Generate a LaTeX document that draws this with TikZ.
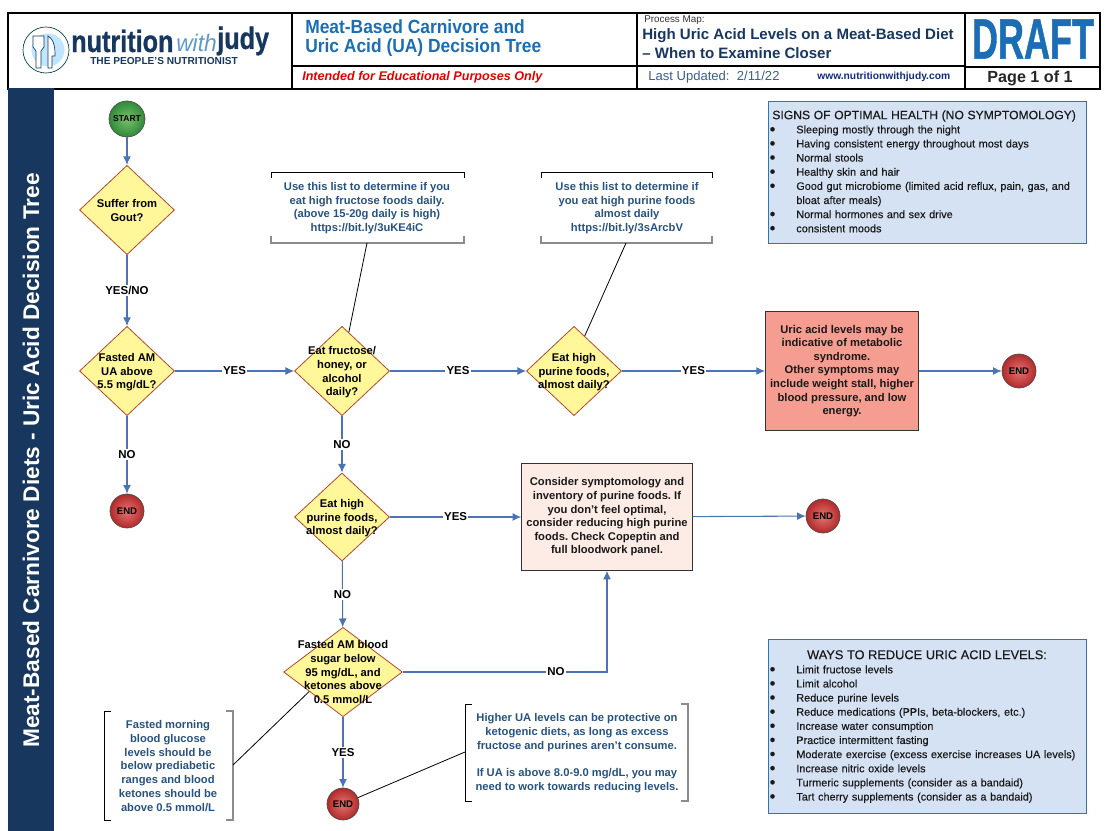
\documentclass[tikz,border=0pt]{standalone}
\usepackage{fontspec}
\setmainfont{Liberation Sans}
\newfontfamily\panelfont[FakeBold=0.25]{Liberation Sans}
\newfontfamily\heavyfont[UprightFont=* Bold,FakeBold=1]{Liberation Sans}
\usetikzlibrary{shapes.geometric,arrows.meta}
\definecolor{flowblue}{HTML}{4A74B4}
\definecolor{navy}{HTML}{17375E}
\definecolor{noteblue}{HTML}{27527F}
\definecolor{titleblue}{HTML}{1B6DB5}
\definecolor{panelblue}{HTML}{D5E2F3}
\definecolor{panelline}{HTML}{2E75B6}
\definecolor{choicefill}{HTML}{FFF79A}
\definecolor{choiceline}{HTML}{B5482A}
\definecolor{endin}{HTML}{E57373}
\definecolor{endout}{HTML}{B22A2A}
\definecolor{startin}{HTML}{7ABF6B}
\definecolor{startout}{HTML}{2E8B3A}
\definecolor{alarmfill}{HTML}{F59D90}
\definecolor{softfill}{HTML}{FDECE6}
\newcommand{\fsz}[2]{\fontsize{#1}{#2}\selectfont}
\newcommand{\bul}[1]{\par\hangindent=18pt\hangafter=1\noindent\hbox to 18pt{\hspace{-2pt}\raisebox{-1pt}{\scalebox{1.5}{\textbullet}}\hfil}#1}
\newcommand{\qtext}[1]{\makebox[0pt]{\smash{\raisebox{-3pt}{\begin{tabular}{@{}c@{}}#1\end{tabular}}}}}
\tikzset{
  flow/.style={draw=flowblue,line width=0.8pt,-{Latex[length=6.5pt,width=6pt]}},
  lbl/.style={fill=white,inner sep=1pt,font=\bfseries\fsz{8.6}{10},text=black},
  callout/.style={draw=black,line width=0.6pt},
  choice/.style={diamond,draw=choiceline,fill=choicefill,line width=0.6pt,inner sep=0pt,
    minimum width=71.25pt,minimum height=67pt,font=\bfseries\fsz{8.4}{10.4},text=black},
  endball/.style={circle,draw=black!70,line width=0.5pt,inner sep=0pt,inner color=endin,
    outer color=endout,minimum size=25.5pt,font=\bfseries\fsz{7.2}{8},text=black},
  startball/.style={circle,draw=black!70,line width=0.5pt,inner sep=0pt,inner color=startin,
    outer color=startout,minimum size=27pt,font=\bfseries\fsz{6.4}{8},text=black},
  note/.style={align=center,font=\bfseries\fsz{8.4}{10.3},text=noteblue},
  result/.style={draw=black!80,line width=0.6pt,minimum width=#1,align=center,
    font=\bfseries\frenchspacing\fsz{8.4}{10.2},text=black!90},
  panel/.style={draw=panelline,fill=panelblue,line width=0.7pt,minimum width=238.5pt,
    inner sep=3pt,text width=232pt,align=left,text=black!90,font=\panelfont\fsz{8.15}{10.6}},
  head/.style={inner sep=0pt,anchor=west}
}
\begin{document}
\begin{tikzpicture}[x=0.75pt,y=-0.75pt]
  \useasboundingbox (0,0) rectangle (1106,831);
  % header frame
  \draw[line width=0.9pt] (8,13) rectangle (1100,89);
  \draw[line width=0.9pt] (292,13) -- (292,89) (637,13) -- (637,89) (965,13) -- (965,89);
  \draw[line width=0.8pt] (292,66) -- (965,66);
  \draw[line width=1.2pt] (965,67) -- (1100,67);
  % logo
  \draw[draw=black!50!teal,line width=0.5pt] (46,50) circle (23);
  \fill[blue!40!cyan!25] (48,50) circle (16.5);
  \draw[navy,fill=white,line width=0.5pt] (33,36) -- (33,47) -- (36,51) -- (36,68) -- (41,68) -- (41,51) -- (44,47) -- (44,36) -- cycle;
  \draw[navy,fill=white,line width=0.5pt] (48,36) .. controls (55,40) and (55,50) .. (55,56) -- (52,56) -- (52,68) -- (48,68) -- cycle;
  \node[head,text=navy,font=\heavyfont\fsz{21}{24}] (nutrition) at (71,41) {\scalebox{.9}[1.1]{nutrition}};
  \node[head,text=titleblue!70,font=\itshape\fsz{18}{24}] (with) at (176,43) {\scalebox{.95}[1]{with}};
  \node[head,text=navy,font=\heavyfont\fsz{21}{24}] (judy) at (217,41) {\scalebox{.9}[1.1]{judy}};
  \node[head,text=navy,font=\bfseries\fsz{7.6}{9}] (people) at (90,61) {THE PEOPLE'S NUTRITIONIST};
  % titles
  \node[head,text=titleblue,font=\bfseries\fsz{13.6}{16}] (title1) at (305,27) {\scalebox{.96}[1.05]{Meat-Based Carnivore and}};
  \node[head,text=titleblue,font=\bfseries\fsz{13.6}{16}] (title2) at (305,48) {\scalebox{.96}[1.05]{Uric Acid (UA) Decision Tree}};
  \node[head,text=red!90!black,font=\bfseries\itshape\fsz{9.45}{11}] (purpose) at (302,77) {Intended for Educational Purposes Only};
  \node[head,text=black!80,font=\fsz{7.4}{9}] (map) at (644,20) {Process Map:};
  \node[head,text=navy,font=\bfseries\fsz{11.3}{13}] (map1) at (642,36) {High Uric Acid Levels on a Meat-Based Diet};
  \node[head,text=navy,font=\bfseries\fsz{11.3}{13}] (map2) at (642,53) {-- When to Examine Closer};
  \node[head,text=flowblue!80!black,font=\fsz{9.8}{11}] (updated) at (648,77) {Last Updated:\ \ 2/11/22};
  \node[head,text=navy!80!blue,font=\bfseries\fsz{7.7}{9}] (site) at (817,77) {www.nutritionwithjudy.com};
  \node[text=titleblue,inner sep=0pt,font=\heavyfont\fsz{30}{32}] (draft) at (1033,39) {\scalebox{.9}[1.42]{DRAFT}};
  \node[text=black!85,inner sep=0pt,font=\bfseries\fsz{12.1}{14}] (page) at (1030,78) {Page 1 of 1};
  % side bar
  \fill[navy] (8,88) rectangle (54,831);
  \node[rotate=90,text=white,inner sep=0pt,font=\bfseries\fsz{17}{20}] (side) at (31,460.5) {Meat-Based Carnivore Diets - Uric Acid Decision Tree};
  % flow nodes
  \node[startball] (start) at (127,119) {START};
  \node[choice] (gout) at (127,210) {\qtext{Suffer from\\Gout?}};
  \node[choice] (fasted) at (127,371) {\qtext{Fasted AM\\UA above\\5.5 mg/dL?}};
  \node[endball] (end1) at (127,511) {END};
  \node[choice] (fructose) at (342,371) {\qtext{Eat fructose/\\honey, or\\alcohol\\daily?}};
  \node[choice] (purine1) at (574,371) {\qtext{Eat high\\purine foods,\\almost daily?}};
  \node[result=115pt,fill=alarmfill,minimum height=89pt] (syndrome) at (842,371) {Uric acid levels may be\\indicative of metabolic\\syndrome.\\Other symptoms may\\include weight stall, higher\\blood pressure, and low\\energy.};
  \node[endball] (end2) at (1019,371) {END};
  \node[choice,minimum height=66pt] (purine2) at (342,517) {\qtext{Eat high\\purine foods,\\almost daily?}};
  \node[result=128pt,fill=softfill,minimum height=80pt] (consider) at (607,517) {Consider symptomology and\\inventory of purine foods. If\\you don't feel optimal,\\consider reducing high purine\\foods. Check Copeptin and\\full bloodwork panel.};
  \node[endball] (end3) at (823,516) {END};
  \node[choice,minimum width=89pt] (blood) at (343,672) {\qtext{Fasted AM blood\\sugar below\\95 mg/dL, and\\ketones above\\0.5 mmol/L}};
  \node[endball,minimum size=24pt] (end4) at (343,804) {END};
  % notes
  \node[note] (note1) at (367,208) {Use this list to determine if you\\eat high fructose foods daily.\\(above 15-20g daily is high)\\https://bit.ly/3uKE4iC};
  \node[note] (note2) at (627,208) {Use this list to determine if\\you eat high purine foods\\almost daily\\https://bit.ly/3sArcbV};
  \node[note] (note3) at (168,766) {Fasted morning\\blood glucose\\levels should be\\below prediabetic\\ranges and blood\\ketones should be\\above 0.5 mmol/L};
  \node[note] (note4) at (577,753) {Higher UA levels can be protective on\\ketogenic diets, as long as excess\\fructose and purines aren't consume.\\[10.3pt]If UA is above 8.0-9.0 mg/dL, you may\\need to work towards reducing levels.};
  % note brackets
  \draw[line width=0.6pt] (271,178) -- (271,172) -- (464,172) -- (464,178);
  \draw[black!45,line width=1pt] (271,236) -- (271,243) -- (464,243) -- (464,236);
  \draw[line width=0.6pt] (541,178) -- (541,172) -- (712,172) -- (712,178);
  \draw[black!45,line width=1pt] (541,236) -- (541,243) -- (712,243) -- (712,236);
  \draw[line width=0.6pt] (111,711) -- (104,711) -- (104,820) -- (111,820);
  \draw[black!45,line width=1pt] (226,711) -- (233,711) -- (233,820) -- (226,820);
  \draw[line width=0.6pt] (472,704) -- (465,704) -- (465,801) -- (472,801);
  \draw[black!45,line width=1pt] (681,704) -- (688,704) -- (688,801) -- (681,801);
  \coordinate (tip1) at (367,243);
  \coordinate (tip2) at (626,243);
  \coordinate (tip3) at (233,765);
  \coordinate (tip4) at (465,752);
  \draw[callout] (tip1) -- (fructose.80);
  \draw[callout] (tip2) -- (purine1.73);
  \draw[callout] (tip3) -- (blood.210);
  \draw[callout] (end4) -- (tip4);
  % connectors
  \draw[flow] (start) -- (gout);
  \draw[flow] (gout) -- node[lbl] {YES/NO} (fasted);
  \draw[flow] (fasted) -- node[lbl] {NO} (end1);
  \draw[flow] (fasted) -- node[lbl] {YES} (fructose);
  \draw[flow] (fructose) -- node[lbl] {YES} (purine1);
  \draw[flow] (purine1) -- node[lbl] {YES} (syndrome);
  \draw[flow] (syndrome) -- (end2);
  \draw[flow] (fructose) -- node[lbl] {NO} (purine2);
  \draw[flow] (purine2) -- node[lbl] {YES} (consider);
  \draw[flow] (consider) -- (end3);
  \draw[flow] (purine2) -- node[lbl] {NO} (blood);
  \draw[flow] (blood) -- node[lbl] {YES} (end4);
  \draw[flow] (blood) -| node[lbl,pos=0.375] {NO} (consider);
  % panels
  \node[panel,minimum height=106.5pt] (signs) at (927,172) {\mbox{\fsz{9.1}{12}SIGNS OF OPTIMAL HEALTH (NO SYMPTOMOLOGY)}
    \bul{Sleeping mostly through the night}
    \bul{Having consistent energy throughout most days}
    \bul{Normal stools}
    \bul{Healthy skin and hair}
    \bul{Good gut microbiome (limited acid reflux, pain, gas, and bloat after meals)}
    \bul{Normal hormones and sex drive}
    \bul{consistent moods}};
  \node[panel,minimum height=130pt] (ways) at (927,726.5) {{\centering\fsz{9.6}{12}WAYS TO REDUCE URIC ACID LEVELS:\par}
    \bul{Limit fructose levels}
    \bul{Limit alcohol}
    \bul{Reduce purine levels}
    \bul{Reduce medications (PPIs, beta-blockers, etc.)}
    \bul{Increase water consumption}
    \bul{Practice intermittent fasting}
    \bul{Moderate exercise (excess exercise increases UA levels)}
    \bul{Increase nitric oxide levels}
    \bul{Turmeric supplements (consider as a bandaid)}
    \bul{Tart cherry supplements (consider as a bandaid)}};
\end{tikzpicture}
\end{document}
